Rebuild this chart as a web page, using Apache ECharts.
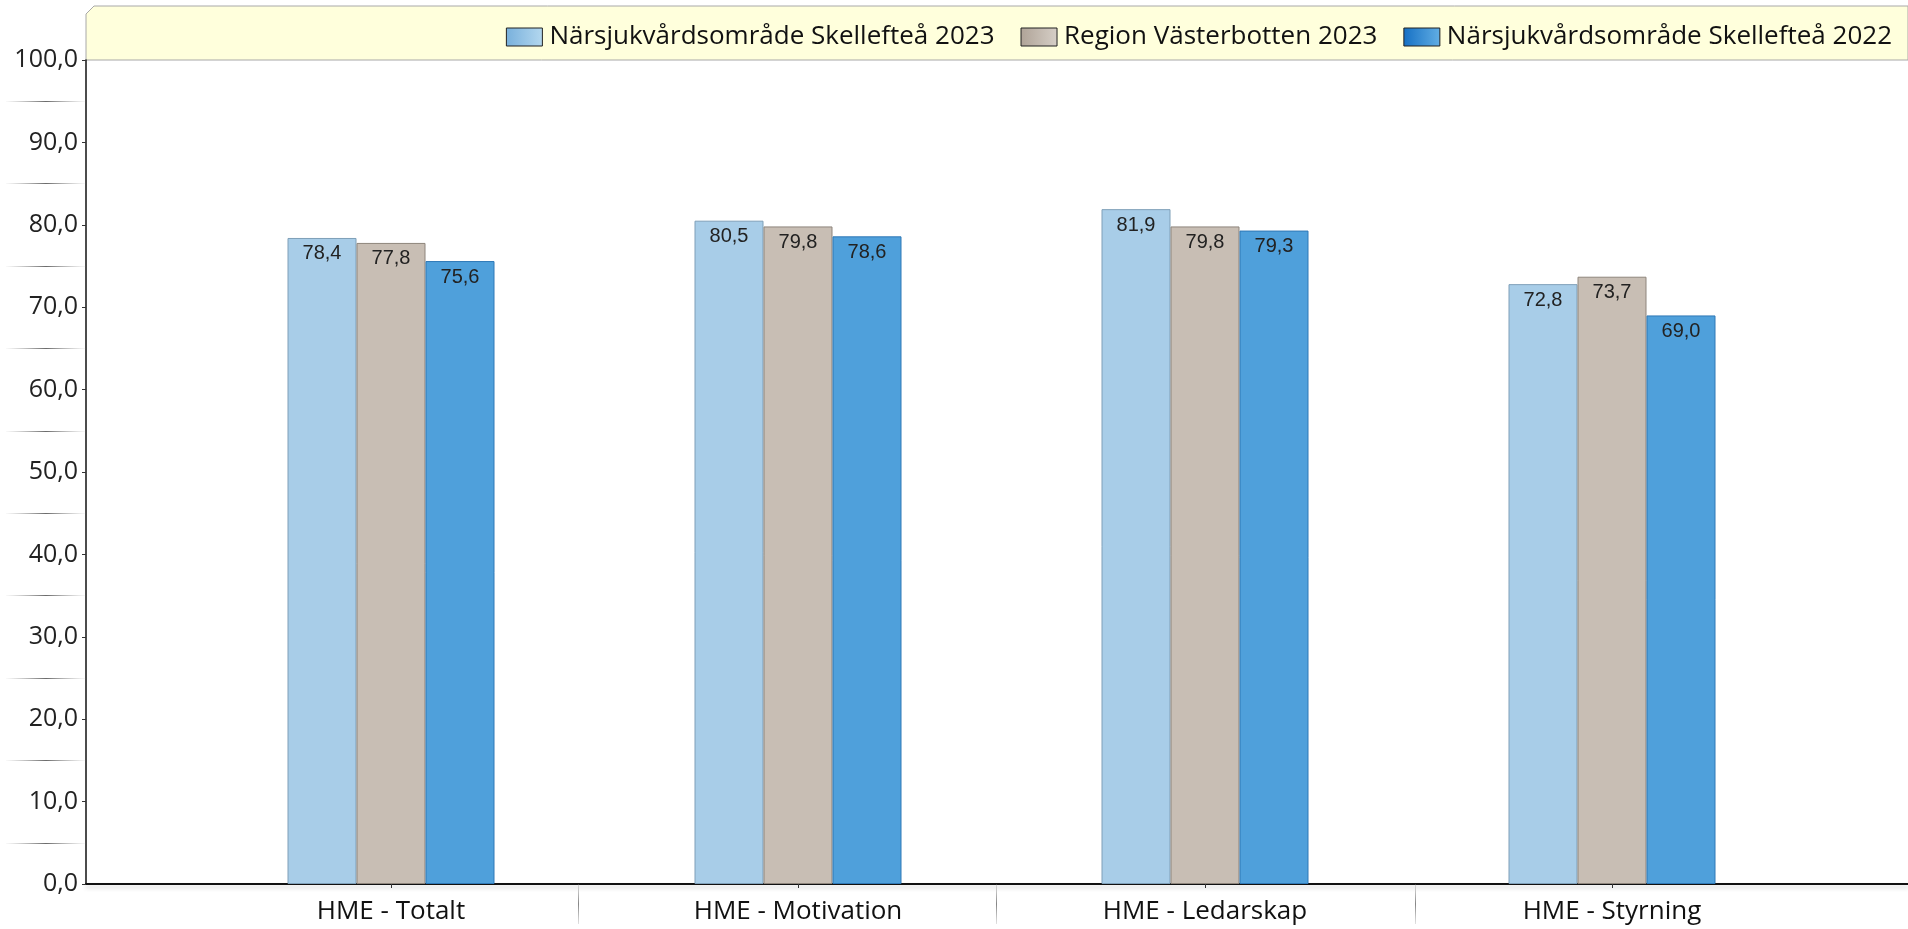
<!DOCTYPE html>
<html>
<head>
<meta charset="utf-8">
<script src="https://cdn.jsdelivr.net/npm/echarts@6/dist/echarts.min.js"></script>
<style>
html,body{margin:0;padding:0;background:#fff;}
#c{width:1908px;height:929px;}
</style>
</head>
<body>
<div id="c"></div>
<script>
var categories = ['HME - Totalt', 'HME - Motivation', 'HME - Ledarskap', 'HME - Styrning'];
var seriesNames = ['Närsjukvårdsområde Skellefteå 2023', 'Region Västerbotten 2023', 'Närsjukvårdsområde Skellefteå 2022'];
var skelleftea2023 = [78.4, 80.5, 81.9, 72.8];
var region2023 = [77.8, 79.8, 79.8, 73.7];
var skelleftea2022 = [75.6, 78.6, 79.3, 69.0];
var yTicks = [0, 10, 20, 30, 40, 50, 60, 70, 80, 90, 100];

var FONT = '"Open Sans", "Noto Sans", sans-serif';
var fmt = function (v) { return Number(v).toFixed(1).replace('.', ','); };

var chart = echarts.init(document.getElementById('c'));

var TOP = 60, BOTTOM = 45, LEFT = 86;
var unit = (929 - TOP - BOTTOM) / 100;
var band = 407;
var barLeft = 187.5, barRight = 1908 - (187.5 + 4 * band);

function grad(c1, c2) {
  return new echarts.graphic.LinearGradient(0, 0, 1, 0, [{offset: 0, color: c1}, {offset: 1, color: c2}]);
}
var fadeH = new echarts.graphic.LinearGradient(0, 0, 1, 0, [
  {offset: 0, color: 'rgba(150,150,150,0)'}, {offset: 0.5, color: 'rgba(90,90,90,0.9)'}, {offset: 1, color: 'rgba(150,150,150,0)'}]);
var fadeV = new echarts.graphic.LinearGradient(0, 0, 0, 1, [
  {offset: 0, color: 'rgba(150,150,150,0.2)'}, {offset: 0.5, color: 'rgba(120,120,120,0.9)'}, {offset: 1, color: 'rgba(150,150,150,0.2)'}]);

var colors = ['#A8CDE8', '#C8BEB4', '#4FA0DB'];
var borders = ['#7E9FB8', '#8E857C', '#2E78B6'];
var legendGrads = [grad('#78B0DC', '#B4D8EF'), grad('#AFA397', '#D6CFC7'), grad('#1570C4', '#62AEE4')];
var datas = [skelleftea2023, region2023, skelleftea2022];

var series = datas.map(function (d, i) {
  return {
    name: seriesNames[i],
    type: 'bar',
    xAxisIndex: 0,
    yAxisIndex: 0,
    data: d,
    barWidth: 69,
    barGap: '0%',
    itemStyle: {color: colors[i], borderColor: borders[i], borderWidth: 1},
    label: {
      show: true,
      position: 'insideTop',
      distance: 6,
      formatter: function (p) { return fmt(p.value); },
      color: '#222',
      fontFamily: '"Liberation Sans", Arial, sans-serif',
      fontSize: 20
    }
  };
});

var option = {
  animation: false,
  backgroundColor: '#fff',
  graphic: [{
    type: 'polygon',
    z: -10,
    shape: {points: [[LEFT, 14], [LEFT + 8, 6], [1908, 6], [1908, TOP], [LEFT, TOP]]},
    style: {fill: '#FFFFDC', stroke: '#A8A8A8', lineWidth: 1}
  }],
  legend: {
    right: 16,
    top: 24,
    padding: 0,
    itemWidth: 36,
    itemHeight: 18,
    itemGap: 26,
    icon: 'rect',
    textStyle: {fontFamily: FONT, fontSize: 26, color: '#111', padding: [0, 0, 0, 2]},
    data: seriesNames.map(function (n, i) {
      return {name: n, itemStyle: {color: legendGrads[i], borderColor: '#222', borderWidth: 1}};
    })
  },
  grid: [
    {left: barLeft, right: barRight, top: TOP, bottom: BOTTOM, outerBoundsMode: 'none', containLabel: false},
    {left: LEFT, right: 0, top: TOP, bottom: BOTTOM, outerBoundsMode: 'none', containLabel: false},
    {left: LEFT, right: 0, top: TOP + 5 * unit, bottom: BOTTOM + 5 * unit, outerBoundsMode: 'none', containLabel: false},
    {left: 578, right: 1908 - 1415, top: TOP, bottom: BOTTOM, outerBoundsMode: 'none', containLabel: false}
  ],
  xAxis: [
    {
      gridIndex: 0, type: 'category', data: categories,
      axisLine: {show: false},
      axisTick: {show: true, alignWithLabel: true, length: 4, lineStyle: {color: '#333'}},
      axisLabel: {fontFamily: FONT, fontSize: 26, color: '#111', margin: 15},
      splitLine: {show: false}
    },
    {
      gridIndex: 1, type: 'value', min: 0, max: 1, show: true,
      axisLine: {show: true, lineStyle: {color: '#111', width: 2, shadowColor: 'rgba(0,0,0,0.18)', shadowBlur: 4, shadowOffsetY: 3}},
      axisTick: {show: false}, axisLabel: {show: false}, splitLine: {show: false}
    },
    {
      gridIndex: 2, type: 'value', min: 0, max: 1, show: false
    },
    {
      gridIndex: 3, type: 'value', min: 1, max: 3, interval: 1,
      axisLine: {show: false},
      axisTick: {show: true, length: 40, inside: false, lineStyle: {color: fadeV, width: 1}},
      axisLabel: {show: false}, splitLine: {show: false}, offset: 6
    }
  ],
  yAxis: [
    {gridIndex: 0, type: 'value', min: 0, max: 100, interval: 10, show: false},
    {
      gridIndex: 1, type: 'value', min: yTicks[0], max: yTicks[yTicks.length - 1], interval: 10,
      axisLine: {show: true, lineStyle: {color: '#111', width: 1.5}},
      axisTick: {show: true, length: 4, lineStyle: {color: '#333'}},
      axisLabel: {fontFamily: FONT, fontSize: 25, color: '#222', margin: 8, formatter: fmt},
      splitLine: {show: false}
    },
    {
      gridIndex: 2, type: 'value', min: 5, max: 95, interval: 10,
      axisLine: {show: false},
      axisTick: {show: true, length: 80, lineStyle: {color: fadeH, width: 1}},
      axisLabel: {show: false}, splitLine: {show: false}
    },
    {gridIndex: 3, type: 'value', min: 0, max: 1, show: false}
  ],
  series: series
};
chart.setOption(option);
</script>
</body>
</html>
